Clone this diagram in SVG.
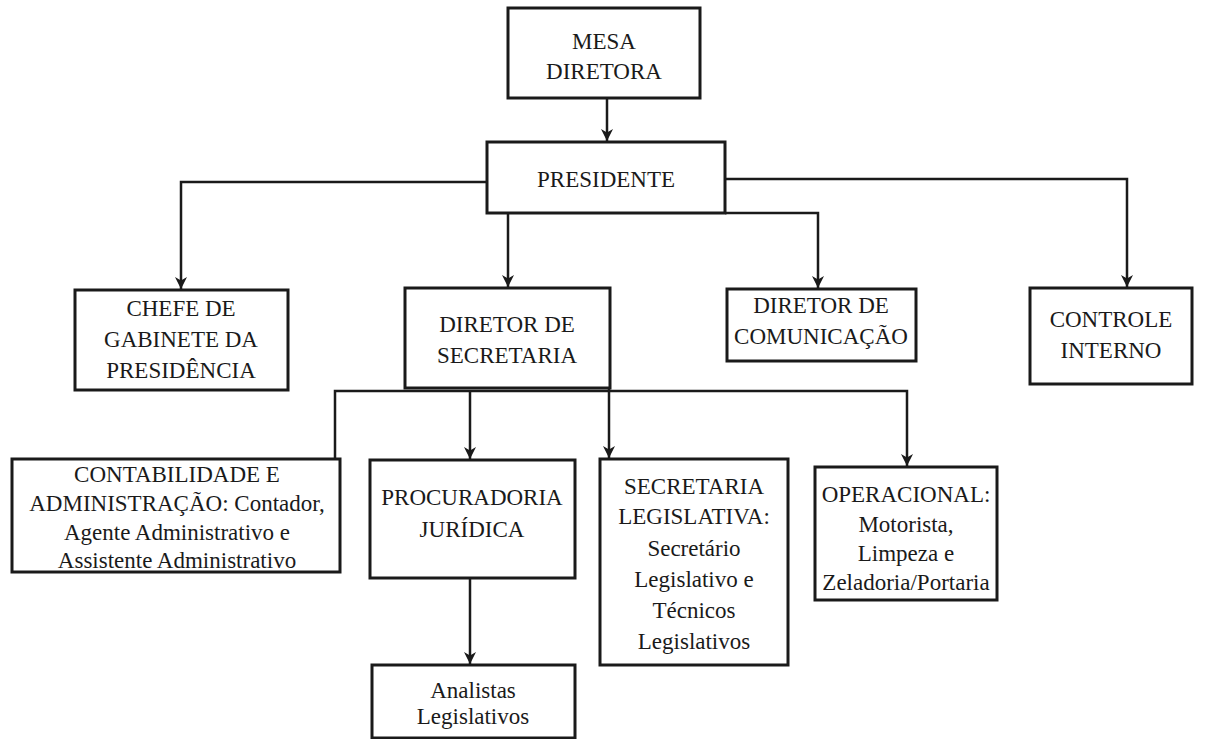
<svg xmlns="http://www.w3.org/2000/svg" width="1222" height="739" viewBox="0 0 1222 739">
<defs>
<marker id="arr" markerWidth="12" markerHeight="12" refX="10" refY="5" orient="auto" markerUnits="userSpaceOnUse" viewBox="0 0 10 10">
<path d="M0,0 L10,5 L0,10 L3,5 Z" fill="#1a1a1a"/>
</marker>
<style>
.box{fill:#ffffff;stroke:#1a1a1a;stroke-width:3}
.t{font-family:"Liberation Serif","Times New Roman",serif;font-size:23px;fill:#1a1a1a;text-anchor:middle}
.c{fill:none;stroke:#1a1a1a;stroke-width:2.5}
</style>
</defs>
<rect width="1222" height="739" fill="#ffffff"/>
<g id="connectors">
<path class="c" d="M607,98 V141" marker-end="url(#arr)"/>
<path class="c" d="M487,182 H181 V289" marker-end="url(#arr)"/>
<path class="c" d="M725,179 H1127 V287" marker-end="url(#arr)"/>
<path class="c" d="M508,213 V287" marker-end="url(#arr)"/>
<path class="c" d="M725,213 H818 V288" marker-end="url(#arr)"/>
<path class="c" d="M335,458 V391 H907 V466" marker-end="url(#arr)"/>
<path class="c" d="M470,391 V459" marker-end="url(#arr)"/>
<path class="c" d="M609,388 V458" marker-end="url(#arr)"/>
<path class="c" d="M470,578 V664" marker-end="url(#arr)"/>
</g>
<g id="mesa">
<rect class="box" x="508" y="8" width="192" height="90"/>
<text class="t" x="604" y="49">MESA</text>
<text class="t" x="604" y="79">DIRETORA</text>
</g>
<g id="presidente">
<rect class="box" x="487" y="142" width="238" height="71"/>
<text class="t" x="606" y="187">PRESIDENTE</text>
</g>
<g id="chefe">
<rect class="box" x="75" y="290" width="213" height="100"/>
<text class="t" x="181" y="316">CHEFE DE</text>
<text class="t" x="181" y="347">GABINETE DA</text>
<text class="t" x="181" y="378">PRESIDÊNCIA</text>
</g>
<g id="diretor-secretaria">
<rect class="box" x="405" y="288" width="205" height="100"/>
<text class="t" x="507" y="332">DIRETOR DE</text>
<text class="t" x="507" y="363">SECRETARIA</text>
</g>
<g id="diretor-comunicacao">
<rect class="box" x="727" y="289" width="189" height="72"/>
<text class="t" x="821" y="313">DIRETOR DE</text>
<text class="t" x="821" y="344">COMUNICAÇÃO</text>
</g>
<g id="controle">
<rect class="box" x="1030" y="288" width="162" height="96"/>
<text class="t" x="1111" y="327">CONTROLE</text>
<text class="t" x="1111" y="358">INTERNO</text>
</g>
<g id="contabilidade">
<rect class="box" x="12" y="459" width="328" height="113"/>
<text class="t" x="177" y="482">CONTABILIDADE E</text>
<text class="t" x="177" y="511">ADMINISTRAÇÃO: Contador,</text>
<text class="t" x="177" y="540">Agente Administrativo e</text>
<text class="t" x="177" y="568">Assistente Administrativo</text>
</g>
<g id="procuradoria">
<rect class="box" x="370" y="460" width="205" height="118"/>
<text class="t" x="472" y="505">PROCURADORIA</text>
<text class="t" x="472" y="537">JURÍDICA</text>
</g>
<g id="secretaria-legislativa">
<rect class="box" x="600" y="459" width="188" height="206"/>
<text class="t" x="694" y="494">SECRETARIA</text>
<text class="t" x="694" y="524">LEGISLATIVA:</text>
<text class="t" x="694" y="556">Secretário</text>
<text class="t" x="694" y="587">Legislativo e</text>
<text class="t" x="694" y="618">Técnicos</text>
<text class="t" x="694" y="649">Legislativos</text>
</g>
<g id="operacional">
<rect class="box" x="815" y="467" width="182" height="133"/>
<text class="t" x="906" y="502">OPERACIONAL:</text>
<text class="t" x="906" y="532">Motorista,</text>
<text class="t" x="906" y="561">Limpeza e</text>
<text class="t" x="906" y="590">Zeladoria/Portaria</text>
</g>
<g id="analistas">
<rect class="box" x="372" y="665" width="203" height="73"/>
<text class="t" x="473" y="698">Analistas</text>
<text class="t" x="473" y="724">Legislativos</text>
</g>
</svg>
